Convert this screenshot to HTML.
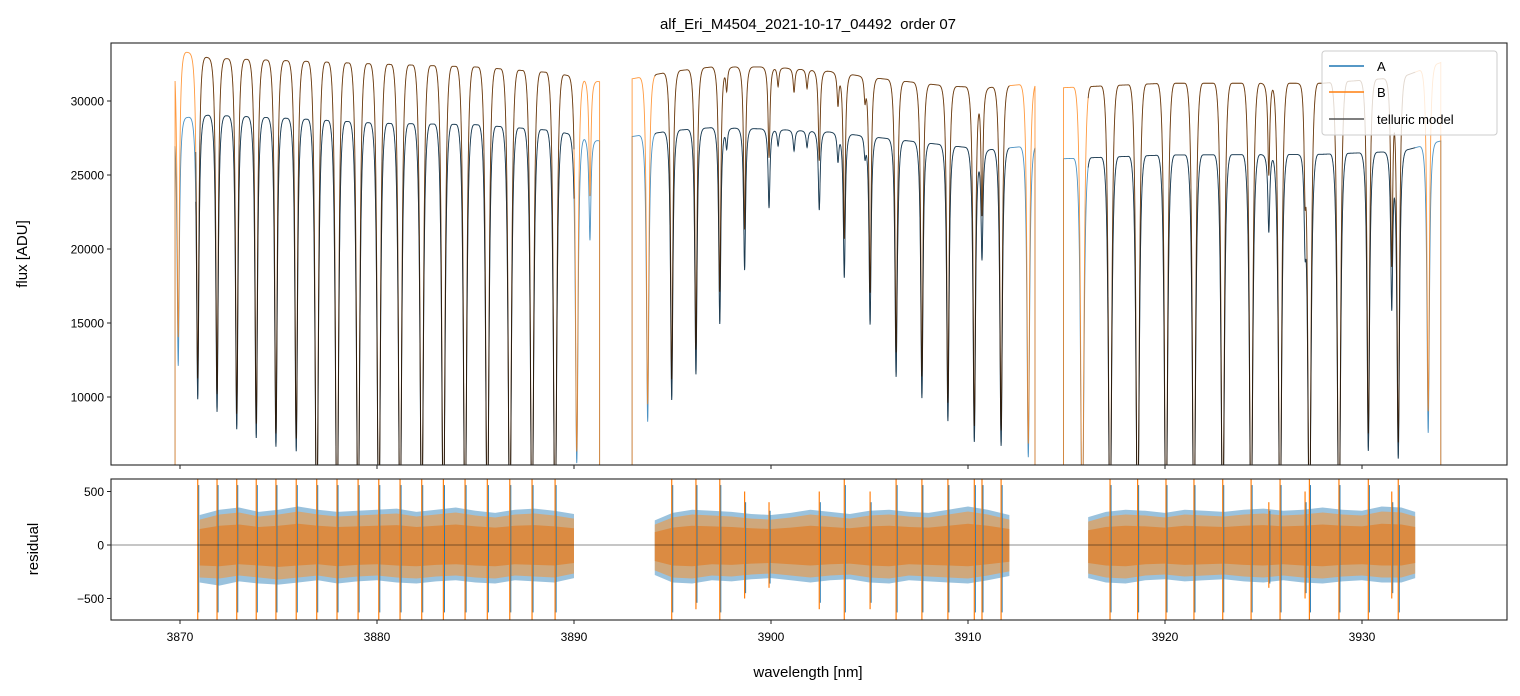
<!DOCTYPE html>
<html><head><meta charset="utf-8"><style>
body{margin:0;background:#fff}
svg{display:block;font-family:"Liberation Sans",sans-serif}
</style></head><body>
<svg id="chart" width="1520" height="696" viewBox="0 0 1520 696" xmlns="http://www.w3.org/2000/svg">
<defs>
<clipPath id="ctop"><rect x="111" y="43" width="1396" height="422"/></clipPath>
<clipPath id="cbot"><rect x="111" y="479" width="1396" height="141"/></clipPath>
</defs>
<text x="808" y="29" font-size="15" text-anchor="middle" style="white-space:pre">alf_Eri_M4504_2021-10-17_04492  order 07</text>
<g id="topG" clip-path="url(#ctop)"></g>
<g id="botG" clip-path="url(#cbot)"></g>
<g id="axesG"></g>
<text transform="translate(27,254) rotate(-90)" font-size="15" text-anchor="middle">flux [ADU]</text>
<text transform="translate(38,549) rotate(-90)" font-size="15" text-anchor="middle">residual</text>
<text x="808" y="677" font-size="15" text-anchor="middle">wavelength [nm]</text>
<g>
<rect x="1322" y="51" width="175" height="84" rx="3" fill="#fff" fill-opacity="0.8" stroke="#ccc"/>
<line x1="1329" y1="66" x2="1364" y2="66" stroke="#1f77b4" stroke-width="1.5"/>
<text x="1377" y="71" font-size="13">A</text>
<line x1="1329" y1="92" x2="1364" y2="92" stroke="#ff7f0e" stroke-width="1.5"/>
<text x="1377" y="97" font-size="13">B</text>
<line x1="1329" y1="119" x2="1364" y2="119" stroke="#555" stroke-width="1.5"/>
<text x="1377" y="124" font-size="13">telluric model</text>
</g>
</svg>
<script>
// ---- data ----
const segments = [[3869.75,3891.3],[3892.95,3913.4],[3914.85,3934.0]];
const modelRanges = [[3870.8,3890.0],[3894.1,3912.1],[3916.1,3932.7]];
const lineCenters = [3869.91,3870.90,3871.88,3872.88,3873.87,3874.87,3875.90,3876.94,3877.97,3879.04,3880.09,3881.17,3882.27,3883.37,3884.47,3885.60,3886.74,3887.87,3889.04,3890.14,3890.81,
 3893.74,3894.96,3896.19,3897.40,3898.66,3899.90,3902.45,3903.72,3905.03,3906.35,3907.66,3908.98,3910.32,3910.71,3911.68,3913.06,
 3897.75,3900.36,3901.17,3901.83,3903.40,3904.77,3906.45,
 3915.80,3917.21,3918.61,3920.05,3921.47,3922.93,3924.37,3925.27,3925.84,3927.11,3927.33,3928.83,3930.32,3931.51,3931.84,3933.36];
const lineMinRatio = [0.42,0.34,0.31,0.27,0.25,0.23,0.22,0.05,0.05,0.05,0.05,0.05,0.05,0.05,0.05,0.05,0.05,0.05,0.05,0.20,0.75,
 0.30,0.35,0.41,0.53,0.66,0.81,0.81,0.65,0.54,0.42,0.365,0.31,0.26,0.72,0.25,0.22,
 0.95,0.96,0.95,0.96,0.93,0.95,0.94,
 0.05,0.05,0.05,0.05,0.05,0.05,0.05,0.80,0.05,0.80,0.05,0.05,0.24,0.60,0.22,0.28];
const contW = [3869.75,3871.5,3876,3880,3885,3889,3891.3, 3892.95,3895,3897,3900,3903,3905,3907,3909,3911,3913.4, 3914.85,3920,3928,3932,3934];
const contA = [28800,29050,28800,28500,28400,28000,27300, 27600,28000,28200,28100,27900,27600,27300,27000,26700,27000, 26100,26350,26400,26600,27300];
const contB = [33500,32900,32700,32500,32300,31900,31300, 31500,32000,32300,32300,32000,31600,31300,31000,30900,31200, 30900,31200,31200,31600,32600];
const resBinW = [[3871,3872,3873,3874,3875,3876,3877,3878,3879,3880,3881,3882,3883,3884,3885,3886,3887,3888,3889,3890],
 [3894.1,3895,3896,3897,3898,3899,3900,3901,3902,3903,3904,3905,3906,3907,3908,3909,3910,3911,3912.1],
 [3916.1,3917,3918,3919,3920,3921,3922,3923,3924,3925,3926,3927,3928,3929,3930,3931,3932,3932.7]];
const resHiB = [[250,300,320,280,300,330,300,280,290,300,310,280,300,320,290,270,300,310,290,260],
 [200,270,300,290,280,260,250,270,300,280,260,290,300,280,270,300,330,300,250],
 [230,280,300,290,270,300,290,280,300,310,290,300,320,300,290,330,320,280]];
const resLoB = [[-320,-330,-300,-320,-340,-320,-300,-330,-310,-300,-320,-330,-310,-300,-320,-330,-300,-310,-320,-280],
 [-250,-320,-330,-300,-310,-290,-280,-300,-320,-300,-290,-320,-330,-300,-310,-320,-330,-300,-260],
 [-280,-320,-330,-300,-290,-310,-300,-290,-310,-320,-300,-320,-330,-310,-300,-320,-320,-280]];
const resHiA = [[280,330,350,310,330,360,330,310,320,330,340,310,330,350,320,300,330,340,320,290],
 [230,300,330,320,310,290,280,300,330,310,290,320,330,310,300,330,360,330,280],
 [260,310,330,320,300,330,320,310,330,340,320,330,350,330,320,360,350,310]];
const resLoA = [[-350,-380,-340,-360,-370,-350,-330,-360,-340,-330,-350,-360,-340,-330,-350,-360,-330,-340,-350,-310],
 [-280,-350,-360,-330,-340,-320,-310,-330,-350,-330,-320,-350,-360,-330,-340,-350,-360,-330,-290],
 [-310,-350,-360,-330,-320,-340,-330,-320,-340,-350,-330,-350,-360,-340,-330,-350,-350,-310]];
const spikeHiB = [700,700,700,700,700,700,700,700,700,700,700,700,700,700,700,700,700,700,700,700,0,
 0,700,700,700,500,400,500,700,500,700,700,700,700,700,700,0,
 0,0,0,0,0,0,0,
 700,700,700,700,700,700,700,400,700,500,700,700,700,500,700,0];
const spikeLoB = [-700,-700,-700,-700,-700,-700,-700,-700,-700,-700,-700,-700,-700,-700,-700,-700,-700,-700,-700,-700,0,
 0,-700,-600,-700,-500,-400,-600,-700,-600,-700,-700,-700,-700,-700,-700,0,
 0,0,0,0,0,0,0,
 -700,-700,-700,-700,-700,-700,-700,-400,-700,-500,-700,-700,-700,-500,-700,0];
const yTicksTop = [10000,15000,20000,25000,30000];
const yTicksBot = [-500,0,500];
const xTicks = [3870,3880,3890,3900,3910,3920,3930];

// ---- scales ----
const X0=111,X1=1507;
function xs(w){return 180+(w-3870)*19.7;}
function ys(f){return 101+(30000-f)*0.0148;}
function yr(r){return 545-r*0.107;}
const NS="http://www.w3.org/2000/svg";
function mk(tag,attrs,parent){const e=document.createElementNS(NS,tag);for(const k in attrs)e.setAttribute(k,attrs[k]);parent.appendChild(e);return e;}
function interp(xa,ya,x){if(x<=xa[0])return ya[0];for(let i=1;i<xa.length;i++){if(x<=xa[i]){const t=(x-xa[i-1])/(xa[i]-xa[i-1]);return ya[i-1]+t*(ya[i]-ya[i-1]);}}return ya[ya.length-1];}
const G=0.055, DCUT=0.5;
const LCUT=G*G/(G*G+DCUT*DCUT);
function prof(d){const L=G*G/(G*G+d*d);if(L<=LCUT)return 0;const t=1-(d/DCUT)*(d/DCUT);return (L-LCUT)/(1-LCUT)*t*t;}
function absorb(w){let s=0;for(let i=0;i<lineCenters.length;i++){const d=w-lineCenters[i];if(Math.abs(d)>DCUT)continue;s+=-Math.log(lineMinRatio[i])*prof(d);}return Math.exp(-s);}
function contAt(arr,w){return interp(contW,arr,w);}

const topG=document.getElementById('topG'), botG=document.getElementById('botG'), axesG=document.getElementById('axesG');
function seriesPath(arr,lo,hi,edges){let d='';const st=0.01;if(edges)d+='M'+xs(lo).toFixed(2)+','+ys(0).toFixed(2);
 for(let w=lo;w<=hi+1e-9;w+=st){const f=contAt(arr,w)*absorb(w);d+=(d?'L':'M')+xs(w).toFixed(2)+','+ys(f).toFixed(2);}
 if(edges)d+='L'+xs(hi).toFixed(2)+','+ys(0).toFixed(2);return d;}
segments.forEach((s,i)=>{
 const pa=mk('path',{d:seriesPath(contA,s[0],s[1],true),fill:'none',stroke:'#1f77b4','stroke-opacity':0.8,'stroke-width':0.9},topG);
 
 
});
segments.forEach((s,i)=>{
 const pb=mk('path',{d:seriesPath(contB,s[0],s[1],true),fill:'none',stroke:'#ff7f0e','stroke-opacity':0.8,'stroke-width':0.9},topG);
 
 
});
modelRanges.forEach((s,i)=>{
 [contA,contB].forEach((arr,j)=>{
  const pm=mk('path',{d:seriesPath(arr,s[0],s[1],false),fill:'none',stroke:'#000','stroke-opacity':0.6,'stroke-width':0.9},topG);
  
  
 });
});
function band(ws,hi,lo,k){let d='';for(let i=0;i<ws.length;i++)d+=(i?'L':'M')+xs(ws[i]).toFixed(2)+','+yr(hi[i]*k).toFixed(2);for(let i=ws.length-1;i>=0;i--)d+='L'+xs(ws[i]).toFixed(2)+','+yr(lo[i]*k).toFixed(2);return d+'Z';}
resBinW.forEach((ws,i)=>{
 const ba=mk('path',{d:band(ws,resHiA[i],resLoA[i],1),fill:'#1f77b4','fill-opacity':0.45},botG);
 
 
 const bb=mk('path',{d:band(ws,resHiB[i],resLoB[i],0.95),fill:'#f4963c','fill-opacity':0.6},botG);
 
 
 const bc=mk('path',{d:band(ws,resHiB[i],resLoB[i],0.6),fill:'#e07f2a','fill-opacity':0.7},botG);
 
 
});
lineCenters.forEach((w,i)=>{
 const inR=modelRanges.some(r=>w>=r[0]&&w<=r[1]);if(!inR||spikeHiB[i]===0)return;
 const sa=mk('line',{x1:xs(w)+1,x2:xs(w)+1,y1:yr(spikeHiB[i]*0.8),y2:yr(spikeLoB[i]*0.9),stroke:'#1f77b4','stroke-width':1},botG);
 
 
 const sb=mk('line',{x1:xs(w),x2:xs(w),y1:yr(spikeHiB[i]),y2:yr(spikeLoB[i]),stroke:'#ff7f0e','stroke-width':1.2},botG);
 
 
});
const zl=mk('line',{x1:X0,x2:X1,y1:yr(0),y2:yr(0),stroke:'#000','stroke-opacity':0.6,'stroke-width':0.8},botG);


const f1=mk('rect',{x:X0,y:43,width:X1-X0,height:422,fill:'none',stroke:'#222','stroke-width':1.1},axesG);


const f2=mk('rect',{x:X0,y:479,width:X1-X0,height:141,fill:'none',stroke:'#222','stroke-width':1.1},axesG);


xTicks.forEach(t=>{
 const x=xs(t);
 const a=mk('line',{x1:x,x2:x,y1:465,y2:469,stroke:'#222'},axesG);
 
 
 const b=mk('line',{x1:x,x2:x,y1:620,y2:624,stroke:'#222'},axesG);
 
 
 const l=mk('text',{x:x,y:641,'font-size':12,'text-anchor':'middle'},axesG);l.textContent=t;
 
 
});
yTicksTop.forEach(t=>{
 const y=ys(t);
 const a=mk('line',{x1:X0-4,x2:X0,y1:y,y2:y,stroke:'#222'},axesG);
 
 
 const l=mk('text',{x:X0-7,y:y+4.5,'font-size':12,'text-anchor':'end'},axesG);l.textContent=t;
 
 
});
yTicksBot.forEach(t=>{
 const y=yr(t);
 const a=mk('line',{x1:X0-4,x2:X0,y1:y,y2:y,stroke:'#222'},axesG);
 
 
 const l=mk('text',{x:X0-7,y:y+4.5,'font-size':12,'text-anchor':'end'},axesG);l.textContent=t<0?'\u2212'+(-t):t;
 
 
});
</script>
</body></html>
